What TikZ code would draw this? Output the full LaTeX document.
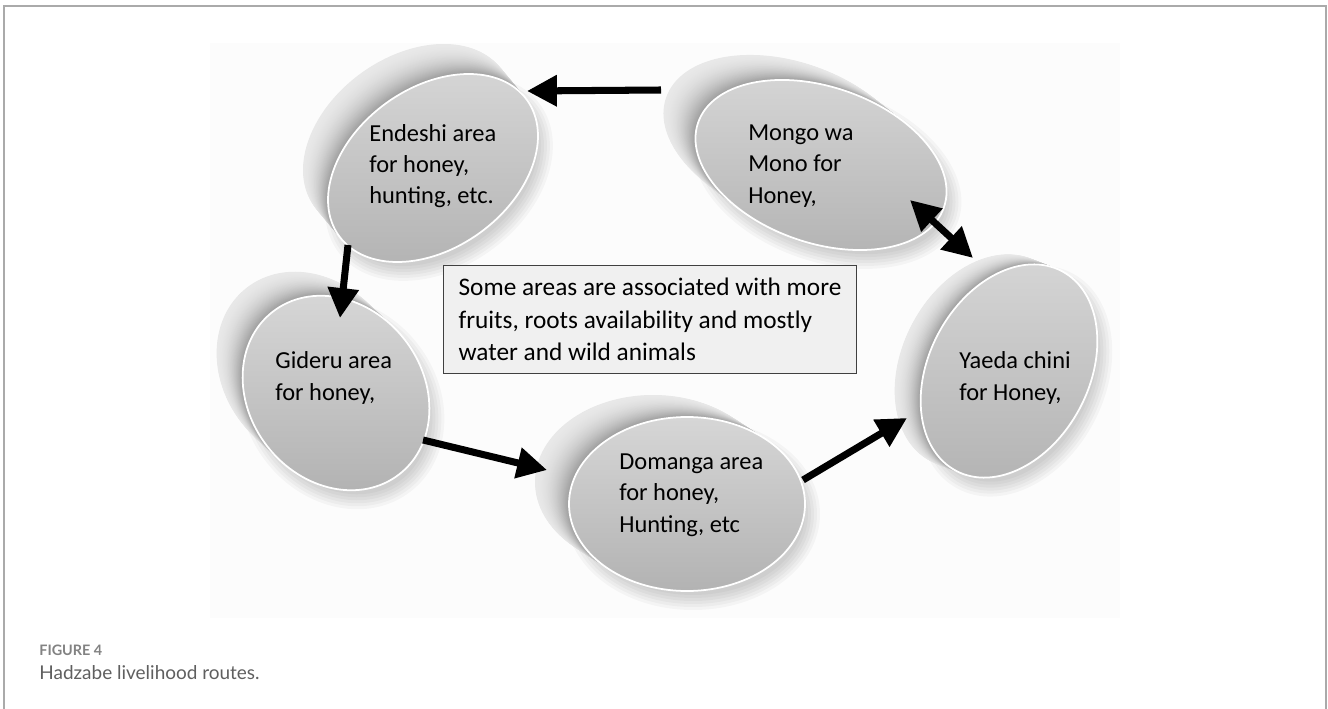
\documentclass[tikz,border=0pt]{standalone}
\usepackage{fontspec}
\setmainfont{Carlito}
\newfontfamily\capfont{Lato}
\usetikzlibrary{arrows.meta}
\definecolor{framegray}{RGB}{170,170,170}
\definecolor{capgray}{RGB}{130,130,130}
\definecolor{captext}{RGB}{95,95,95}

\begin{document}
\begin{tikzpicture}[x=0.02cm, y=-0.02cm,
  lbl/.style={anchor=west, align=left, inner sep=0, font=\fontsize{13.9}{17.8}\selectfont},
  tip/.tip={Triangle[length=17pt,width=17pt]},
  route/.style={line width=4pt, -tip},
  face/.style={draw=white, line width=1pt, top color=black!16, bottom color=black!30}]
\useasboundingbox (0,0) rectangle (1328,709);
\draw[framegray, line width=.6pt] (4,709) -- (4,6) -- (1326,6) -- (1326,709);
\fill[black!1] (210,43) rectangle (1120,618);

% disks: centre / radii / tilt / offset of the back face
\foreach \cx/\cy/\a/\b/\ang/\dx/\dy in {433/168/116/80/36/-25/-30, 821/165/130/78/-19/-32/-25,
    336/393/103/87/-52/-26/-24, 687/504/118/87/0/-34/-22, 1009/371/113/80/62/-26/-10} {
  % soft shadow
  \foreach \k in {0,3,...,15}
    \fill[black, opacity=.03, shift={(\cx+6,\cy+10)}, rotate=\ang] (0,0) ellipse [x radius=\a+\k-6, y radius=\b+\k-6];
  \foreach \t in {0,0.025,...,0.98} {
    \pgfmathsetmacro\sidetone{9+30*\t*\t}
    \fill[black!\sidetone, shift={({\cx+(1-\t)*\dx},{\cy+(1-\t)*\dy})}, rotate=\ang] (0,0) ellipse [x radius=\a, y radius=\b];
  }
  \path[face, shift={(\cx,\cy)}, rotate=\ang] (0,0) ellipse [x radius=\a, y radius=\b];
}

\node[draw=black!75, line width=.6pt, fill=black!6, minimum width=234.7pt, minimum height=61.8pt,
  inner xsep=8pt, align=left, font=\fontsize{14.4}{18.4}\selectfont] (info) at (650,319.5)
  {Some areas are associated with more\\fruits, roots availability and mostly\\water and wild animals};

\node[lbl] (endeshi) at (369,166) {Endeshi area\\for honey,\\hunting, etc.};
\node[lbl] (mongo) at (748,166) {Mongo wa\\Mono for\\Honey,};
\node[lbl] (gideru) at (275,378) {Gideru area\\for honey,};
\node[lbl] (domanga) at (619,495) {Domanga area\\for honey,\\Hunting, etc};
\node[lbl] (yaeda) at (959,378) {Yaeda chini\\for Honey,};

% arrow ends
\coordinate (mongo-w) at (661,90);
\coordinate (endeshi-e) at (527,91);
\coordinate (endeshi-s) at (348,245);
\coordinate (gideru-n) at (340,318);
\coordinate (gideru-e) at (423,440);
\coordinate (domanga-w) at (547,470);
\coordinate (domanga-e) at (803,480);
\coordinate (yaeda-w) at (907,418);
\coordinate (mongo-se) at (910,200);
\coordinate (yaeda-n) at (973,258);

\draw[route] (mongo-w) -- (endeshi-e);
\draw[route] (endeshi-s) -- (gideru-n);
\draw[route] (gideru-e) -- (domanga-w);
\draw[route] (domanga-e) -- (yaeda-w);
\draw[route, tip-tip] (mongo-se) -- (yaeda-n);

\node[anchor=west, inner sep=0, font=\capfont\bfseries\fontsize{8.2}{10}\selectfont, text=capgray] (fig) at (39,650) {FIGURE 4};
\node[anchor=west, inner sep=0, font=\capfont\fontsize{10.8}{13}\selectfont, text=captext] (caption) at (39,673) {Hadzabe livelihood routes.};
\end{tikzpicture}
\end{document}
